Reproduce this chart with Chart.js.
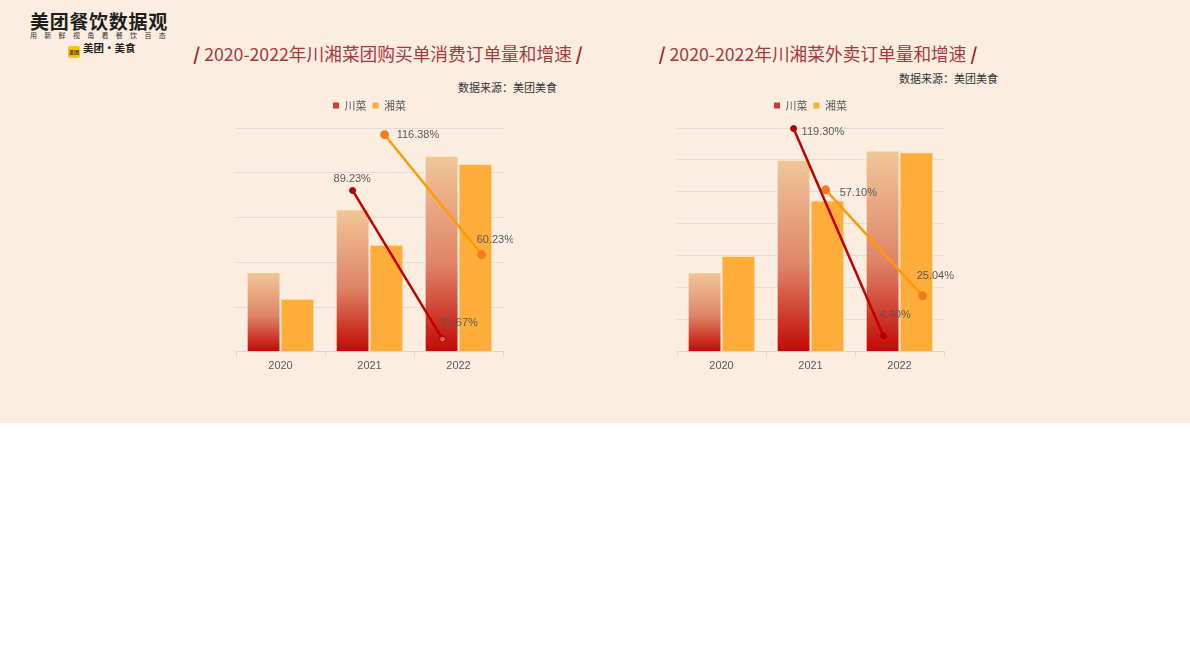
<!DOCTYPE html>
<html>
<head>
<meta charset="utf-8">
<script src="https://cdn.jsdelivr.net/npm/chart.js@4.4.0/dist/chart.umd.min.js"></script>
<style>
  body { margin: 0; width: 1190px; height: 670px; background: #fff; position: relative; overflow: hidden;
         font-family: "Noto Sans CJK SC", "Noto Sans", sans-serif; }
  .band { position: absolute; left: 0; top: 0; width: 1190px; height: 423px; background: #FBEEE1; }
  .logo1 { position: absolute; left: 30px; top: 8px; font-size: 19px; font-weight: bold; color: #1e1e1e;
           letter-spacing: 0.7px; line-height: 26px; }
  .logo2 { position: absolute; left: 30px; top: 31px; font-size: 7px; color: #333; letter-spacing: 7.3px; line-height: 9px; }
  .logo3 { position: absolute; left: 68px; top: 41px; font-size: 10.5px; font-weight: bold; color: #222; line-height: 14px; }
  .logo3 .ic { display: inline-block; width: 12px; height: 12px; background: #FFC300; border-radius: 2px;
               vertical-align: -2px; margin-right: 3px; font-size: 5px; line-height: 12px; text-align: center; color: #333; }
  .title { position: absolute; top: 41px; width: 600px; text-align: center; font-size: 17.7px; line-height: 24px; color: #A63A3C; }
  .title b { color: #A02028; }
  .src { position: absolute; width: 200px; text-align: right; font-size: 11px; line-height: 14px; color: #333; }
  .box { position: absolute; top: 94px; width: 287px; height: 282px; }
  .box canvas { position: absolute; left: 0; top: 0; }
</style>
</head>
<body>
<div class="band"></div>
<div class="logo1">美团餐饮数据观</div>
<div class="logo2">用新鲜视角看餐饮百态</div>
<div class="logo3"><span class="ic">美团</span>美团·美食</div>

<div class="title" style="left:88px"><b>/</b> 2020-2022年川湘菜团购买单消费订单量和增速 <b>/</b></div>
<div class="src" style="left:357px;top:80px">数据来源：美团美食</div>
<div class="title" style="left:518px"><b>/</b> 2020-2022年川湘菜外卖订单量和增速 <b>/</b></div>
<div class="src" style="left:798px;top:71px">数据来源：美团美食</div>

<div class="box" style="left:226px">
  <canvas id="groupChart" width="287" height="282"></canvas>
  <canvas id="groupGrowth" width="287" height="282"></canvas>
</div>
<div class="box" style="left:667px">
  <canvas id="deliveryChart" width="287" height="282"></canvas>
  <canvas id="deliveryGrowth" width="287" height="282"></canvas>
</div>

<script>
const years = ['2020', '2021', '2022'];
const seriesNames = ['川菜', '湘菜'];

// 团购买单消费订单量 (relative)
const groupChuan = [35.7, 63.7, 87.6];
const groupXiang = [23.7, 47.8, 83.9];
// 增速 2021, 2022
const groupChuanGrowth = [89.23, 22.67];
const groupXiangGrowth = [116.38, 60.23];

// 外卖订单量 (relative)
const deliveryChuan = [24.9, 60.1, 63.0];
const deliveryXiang = [30.0, 47.3, 62.4];
const deliveryChuanGrowth = [119.30, 4.40];
const deliveryXiangGrowth = [57.10, 25.04];

// where the growth points sit along the year axis (near each bar's centre)
const chuanPointX = [0.81, 1.82];
const xiangPointX = [1.17, 2.26];

function formatPct(v) {
   return v.toFixed(2) + '%';
}

function chuanFill(context) {
   const chart = context.chart;
   if (!chart.chartArea || context.dataIndex === undefined) return '#D9443A';
   const y = chart.scales.y;
   const top = y.getPixelForValue(context.raw);
   const base = y.getPixelForValue(0);
   const g = chart.ctx.createLinearGradient(0, top, 0, base);
   g.addColorStop(0, '#F1C799');
   g.addColorStop(0.55, '#DF8468');
   g.addColorStop(1, '#C20804');
   return g;
}

// push the plot area down a little under the legend
const legendGap = {
   id: 'legendGap',
   beforeInit(chart) {
      const fit = chart.legend.fit;
      chart.legend.fit = function () {
         fit.call(this);
         this.height += 7;
      };
   }
};

const growthLabels = {
   id: 'growthLabels',
   afterDatasetsDraw(chart) {
      const c = chart.ctx;
      c.save();
      c.font = '11px "Liberation Sans", Arial, sans-serif';
      c.fillStyle = '#595959';
      c.textAlign = 'left';
      c.textBaseline = 'middle';
      chart.data.datasets.forEach((ds, i) => {
         chart.getDatasetMeta(i).data.forEach((pt, j) => {
            const off = ds.labelOffset[j];
            c.fillText(formatPct(ds.data[j].y), pt.x + off[0], pt.y + off[1]);
         });
      });
      c.restore();
   }
};

function toPoints(xs, ys) {
   return ys.map((v, i) => ({ x: xs[i], y: v }));
}

function createBarChart(id, chuan, xiang, cfg) {
   const ctx = document.getElementById(id).getContext('2d');
   return new Chart(ctx, {
      type: 'bar',
      data: {
         labels: years,
         datasets: [{
            label: seriesNames[0],
            data: chuan,
            backgroundColor: chuanFill,
            borderColor: 'rgba(255,236,214,0.75)',
            borderWidth: 1
         }, {
            label: seriesNames[1],
            data: xiang,
            backgroundColor: '#FFAD3A',
            borderColor: 'rgba(255,222,175,0.8)',
            borderWidth: 1
         }]
      },
      options: {
         responsive: false,
         animation: false,
         barPercentage: 1,
         categoryPercentage: 0.76,
         layout: { padding: { left: 10, right: 10, top: 0, bottom: 0 } },
         plugins: {
            legend: {
               position: 'top',
               labels: {
                  boxWidth: 6,
                  boxHeight: 6,
                  padding: 6,
                  color: '#595959',
                  font: { size: 11, family: '"Noto Sans CJK SC", sans-serif' },
                  generateLabels: (chart) => chart.data.datasets.map((ds, i) => ({
                     text: ds.label,
                     fillStyle: i === 0 ? '#D43A30' : '#FFAD3A',
                     strokeStyle: 'rgba(0,0,0,0)',
                     lineWidth: 0,
                     hidden: false,
                     datasetIndex: i,
                     fontColor: '#595959'
                  }))
               }
            },
            tooltip: { enabled: false }
         },
         scales: {
            x: {
               grid: { drawOnChartArea: false, tickLength: 5, color: '#DCD6D0' },
               border: { color: '#DCD6D0' },
               ticks: {
                  color: '#595959',
                  padding: 3,
                  font: { size: 11, family: '"Liberation Sans", Arial, sans-serif' }
               }
            },
            y: {
               min: 0,
               max: cfg.barMax,
               ticks: { display: false, stepSize: cfg.barStep },
               grid: { drawTicks: false, color: 'rgba(205,205,212,0.55)' },
               border: { display: false }
            }
         }
      },
      plugins: [legendGap]
   });
}

// growth lines on a transparent canvas laid over the bars, sharing the same plot area
function createGrowthChart(id, base, chuanGrowth, xiangGrowth, cfg) {
   const a = base.chartArea;
   const ctx = document.getElementById(id).getContext('2d');
   return new Chart(ctx, {
      type: 'line',
      data: {
         datasets: [{
            label: seriesNames[0] + '增速',
            data: toPoints(chuanPointX, chuanGrowth),
            yAxisID: 'yc',
            borderColor: '#C00000',
            borderWidth: 2.5,
            pointRadius: 3,
            pointBackgroundColor: cfg.chuanPointFill,
            pointBorderColor: '#A80000',
            pointBorderWidth: 1,
            clip: false,
            labelOffset: cfg.chuanLabelOffset
         }, {
            label: seriesNames[1] + '增速',
            data: toPoints(xiangPointX, xiangGrowth),
            yAxisID: 'yx',
            borderColor: '#FF9A05',
            borderWidth: 2.5,
            pointRadius: 3.2,
            pointBackgroundColor: '#F47A1F',
            pointBorderColor: '#F47A1F',
            clip: false,
            labelOffset: cfg.xiangLabelOffset
         }]
      },
      options: {
         responsive: false,
         animation: false,
         layout: { padding: { left: a.left, top: a.top, right: base.width - a.right, bottom: base.height - a.bottom } },
         plugins: { legend: { display: false }, tooltip: { enabled: false } },
         scales: {
            x: { type: 'linear', display: false, min: -0.5, max: 2.5 },
            yc: { display: false, min: cfg.chuanRange[0], max: cfg.chuanRange[1] },
            yx: { display: false, min: cfg.xiangRange[0], max: cfg.xiangRange[1] }
         }
      },
      plugins: [growthLabels]
   });
}

const groupBars = createBarChart('groupChart', groupChuan, groupXiang, { barMax: 100, barStep: 20 });
createGrowthChart('groupGrowth', groupBars, groupChuanGrowth, groupXiangGrowth, {
   chuanRange: [17.0, 117.2],
   xiangRange: [14.7, 119.5],
   chuanPointFill: ['#B00000', 'rgba(230,150,140,0.6)'],
   chuanLabelOffset: [[-19, -12], [-2, -16]],
   xiangLabelOffset: [[12, 0], [-5, -15]]
});

const deliveryBars = createBarChart('deliveryChart', deliveryChuan, deliveryXiang, { barMax: 70, barStep: 10 });
createGrowthChart('deliveryGrowth', deliveryBars, deliveryChuanGrowth, deliveryXiangGrowth, {
   chuanRange: [-4.4, 119.6],
   xiangRange: [8.1, 75.8],
   chuanPointFill: ['#B00000', '#B00000'],
   chuanLabelOffset: [[8, 3], [-4, -21]],
   xiangLabelOffset: [[14, 3], [-6, -20]]
});
</script>
</body>
</html>
